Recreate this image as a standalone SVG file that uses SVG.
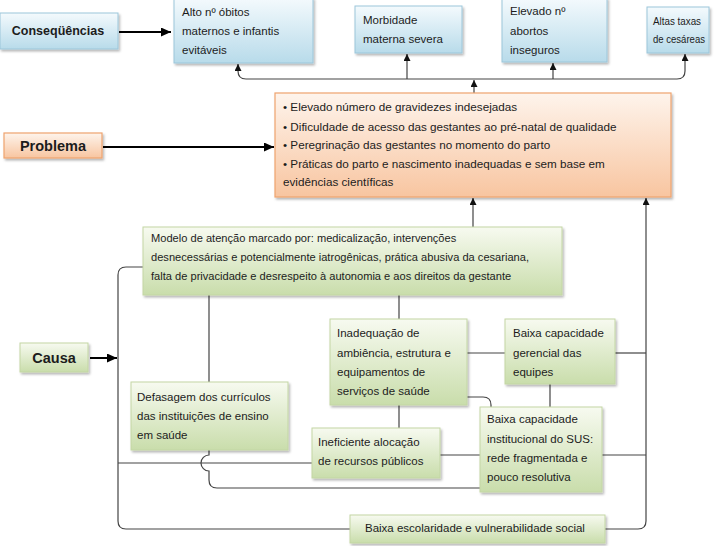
<svg xmlns="http://www.w3.org/2000/svg" width="728" height="546" viewBox="0 0 728 546">
<defs>
<linearGradient id="gBlue" x1="0" y1="0" x2="0" y2="1"><stop offset="0" stop-color="#f4fafd"/><stop offset="1" stop-color="#b8dbea"/></linearGradient>
<linearGradient id="gOrange" x1="0" y1="0" x2="0" y2="1"><stop offset="0" stop-color="#fef4ec"/><stop offset="1" stop-color="#f8c5a0"/></linearGradient>
<linearGradient id="gGreen" x1="0" y1="0" x2="0" y2="1"><stop offset="0" stop-color="#f7faf0"/><stop offset="1" stop-color="#c9ddab"/></linearGradient>
<filter id="sh" x="-10%" y="-10%" width="130%" height="140%"><feDropShadow dx="1.5" dy="2" stdDeviation="1.2" flood-color="#000" flood-opacity="0.28"/></filter>
<marker id="big" markerUnits="userSpaceOnUse" markerWidth="11" markerHeight="9" refX="10" refY="4.5" orient="auto"><path d="M0,0 L10,4.5 L0,9 z" fill="#000"/></marker>
<marker id="sm" markerUnits="userSpaceOnUse" markerWidth="8" markerHeight="7" refX="7" refY="3.5" orient="auto"><path d="M0,0 L7,3.5 L0,7 z" fill="#111"/></marker>
</defs>
<style>
.b{fill:url(#gBlue);stroke:#9cc6da;stroke-width:1;filter:url(#sh)}
.o{fill:url(#gOrange);stroke:#efa36e;stroke-width:1.2;filter:url(#sh)}
.g{fill:url(#gGreen);stroke:#c3d6a4;stroke-width:1;filter:url(#sh)}
text{font-family:"Liberation Sans",Arial,sans-serif;font-size:11.5px;fill:#1c1c1c}
.lab{font-weight:bold;text-anchor:middle}
.c{fill:none;stroke:#444;stroke-width:1.2}
.k{fill:none;stroke:#000;stroke-width:2}
</style>
<g id="connectors">
<path class="k" d="M119 32 L171 32" marker-end="url(#big)"/>
<path class="k" d="M103 147 L274 147" marker-end="url(#big)"/>
<path class="k" d="M90 358 L117 358" marker-end="url(#big)"/>
<path class="c" d="M474 79 L246 79 Q238 79 238 71 L238 64" marker-end="url(#sm)"/>
<path class="c" d="M474 79 L677 79 Q685 79 685 71 L685 54" marker-end="url(#sm)"/>
<path class="c" d="M407 79 L407 54" marker-end="url(#sm)"/>
<path class="c" d="M553 79 L553 63" marker-end="url(#sm)"/>
<path class="c" d="M474 93 L474 80" marker-end="url(#sm)"/>
<path class="c" d="M473 227 L473 198" marker-end="url(#sm)"/>
<path class="c" d="M605 529 L638 529 Q646 529 646 521 L646 198" marker-end="url(#sm)"/>
<path class="c" d="M143 267 L126 267 Q118 267 118 275 L118 521 Q118 529 126 529 L350 529"/>
<path class="c" d="M209 295 L209 382"/>
<path class="c" d="M399 295 L399 319"/>
<path class="c" d="M467 353 L505 353"/>
<path class="c" d="M615 353 L646 353"/>
<path class="c" d="M550 384 L550 407"/>
<path class="c" d="M467 397 L483 397 Q491 397 491 405 L491 407"/>
<path class="c" d="M399 405 L399 428"/>
<path class="c" d="M118 463 L312 463"/>
<path class="c" d="M209 450 L209 455 A8 8 0 0 0 209 471 L209 480 Q209 488 217 488 L480 488"/>
<path class="c" d="M440 455 L480 455"/>
<path class="c" d="M602 455 L646 455"/>
</g>
<g id="consequencias">
<rect class="b" x="0" y="13" width="118" height="36"/>
<text class="lab" x="58" y="35" style="font-size:12.5px">Conseqüências</text>
</g>
<g id="c1">
<rect class="b" x="174" y="-2" width="139" height="65"/>
<text x="182" y="16">Alto nº óbitos</text>
<text x="182" y="35">maternos e infantis</text>
<text x="182" y="54">evitáveis</text>
</g>
<g id="c2">
<rect class="b" x="355" y="6" width="107" height="47"/>
<text x="363" y="24">Morbidade</text>
<text x="363" y="43">materna severa</text>
</g>
<g id="c3">
<rect class="b" x="502" y="-2" width="105" height="64"/>
<text x="510" y="15">Elevado nº</text>
<text x="510" y="35">abortos</text>
<text x="510" y="54">inseguros</text>
</g>
<g id="c4">
<rect class="b" x="647" y="7" width="62" height="46"/>
<text x="653" y="25" style="font-size:11.5px" textLength="48" lengthAdjust="spacingAndGlyphs">Altas taxas</text>
<text x="653" y="43" style="font-size:11.5px" textLength="52" lengthAdjust="spacingAndGlyphs">de cesáreas</text>
</g>
<g id="problema">
<rect class="o" x="4" y="133" width="98" height="25"/>
<text class="lab" x="53" y="151" style="font-size:14.5px">Problema</text>
</g>
<g id="problem-box">
<rect class="o" x="275" y="93" width="396" height="104"/>
<text x="283" y="111" style="font-size:11.7px">• Elevado número de gravidezes indesejadas</text>
<text x="283" y="131" style="font-size:11.7px">• Dificuldade de acesso das gestantes ao pré-natal de qualidade</text>
<text x="283" y="149" style="font-size:11.7px">• Peregrinação das gestantes no momento do parto</text>
<text x="283" y="168" style="font-size:11.7px">• Práticas do parto e nascimento inadequadas e sem base em</text>
<text x="283" y="186" style="font-size:11.7px">evidências científicas</text>
</g>
<g id="modelo">
<rect class="g" x="143" y="227" width="419" height="68"/>
<text x="151" y="242" style="font-size:11.1px">Modelo de atenção marcado por: medicalização, intervenções</text>
<text x="151" y="261" style="font-size:11.1px">desnecessárias e potencialmente iatrogênicas, prática abusiva da cesariana,</text>
<text x="151" y="280" style="font-size:11.1px">falta de privacidade e desrespeito à autonomia e aos direitos da gestante</text>
</g>
<g id="causa">
<rect class="g" x="20" y="343" width="68" height="29"/>
<text class="lab" x="54" y="363" style="font-size:14.5px">Causa</text>
</g>
<g id="inadequacao">
<rect class="g" x="330" y="319" width="137" height="86"/>
<text x="337" y="337">Inadequação de</text>
<text x="337" y="357">ambiência, estrutura e</text>
<text x="337" y="376">equipamentos de</text>
<text x="337" y="395">serviços de saúde</text>
</g>
<g id="gerencial">
<rect class="g" x="505" y="319" width="110" height="65"/>
<text x="513" y="337">Baixa capacidade</text>
<text x="513" y="357">gerencial das</text>
<text x="513" y="376">equipes</text>
</g>
<g id="defasagem">
<rect class="g" x="131" y="382" width="157" height="68"/>
<text x="137" y="401">Defasagem dos currículos</text>
<text x="137" y="420">das instituições de ensino</text>
<text x="137" y="439">em saúde</text>
</g>
<g id="ineficiente">
<rect class="g" x="312" y="428" width="128" height="50"/>
<text x="318" y="446">Ineficiente alocação</text>
<text x="318" y="465">de recursos públicos</text>
</g>
<g id="institucional">
<rect class="g" x="480" y="407" width="122" height="85"/>
<text x="487" y="423">Baixa capacidade</text>
<text x="487" y="443">institucional do SUS:</text>
<text x="487" y="462">rede fragmentada e</text>
<text x="487" y="481">pouco resolutiva</text>
</g>
<g id="escolaridade">
<rect class="g" x="350" y="515" width="255" height="28"/>
<text x="365" y="532">Baixa escolaridade e vulnerabilidade social</text>
</g>
</svg>
